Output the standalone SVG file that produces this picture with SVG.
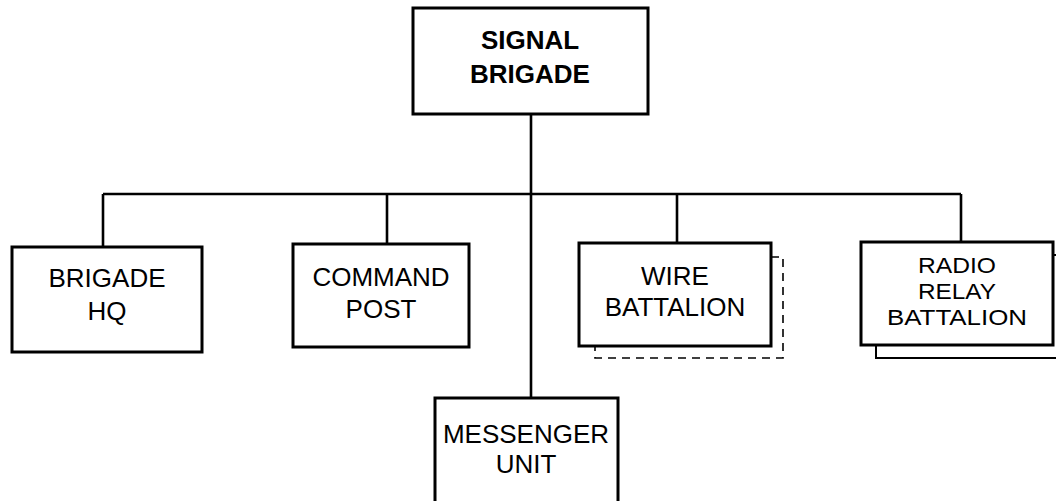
<svg xmlns="http://www.w3.org/2000/svg" width="1056" height="501" viewBox="0 0 1056 501">
<style>
.box{fill:#fff;stroke:#000;stroke-width:3}
.ln{fill:none;stroke:#000;stroke-width:2.6}
.sh{fill:none;stroke:#000;stroke-width:2}
.dash{fill:none;stroke:#000;stroke-width:1.6;stroke-dasharray:8 6}
text{font-family:"Liberation Sans",Arial,sans-serif;font-size:26px;text-anchor:middle;fill:#000}
.b{font-weight:bold}
.s{font-size:22px}
</style>
<rect width="1056" height="501" fill="#fff"/>
<g id="connectors">
<path class="ln" d="M531,114 V398"/>
<path class="ln" d="M103,194 H961"/>
<path class="ln" d="M103,194 V247"/>
<path class="ln" d="M387,194 V244"/>
<path class="ln" d="M677,194 V243"/>
<path class="ln" d="M961,194 V242"/>
</g>
<g id="signal-brigade">
<rect class="box" x="413" y="8" width="235" height="106"/>
<text class="b" x="530" y="49">SIGNAL</text>
<text class="b" x="530" y="83">BRIGADE</text>
</g>
<g id="brigade-hq">
<rect class="box" x="12" y="247" width="190" height="105"/>
<text x="107" y="287">BRIGADE</text>
<text x="107" y="320">HQ</text>
</g>
<g id="command-post">
<rect class="box" x="293" y="244" width="176" height="103"/>
<text x="381" y="286">COMMAND</text>
<text x="381" y="318">POST</text>
</g>
<g id="wire-battalion">
<path class="dash" d="M771,257 H783 V358 H595 V346"/>
<rect class="box" x="579" y="243" width="192" height="103"/>
<text x="675" y="285">WIRE</text>
<text x="675" y="316">BATTALION</text>
</g>
<g id="radio-relay-battalion">
<path class="sh" d="M1053,255 H1060 M876,345 V358 H1060"/>
<rect class="box" x="861" y="242" width="192" height="103"/>
<text class="s" x="957" y="273" textLength="78" lengthAdjust="spacingAndGlyphs">RADIO</text>
<text class="s" x="957" y="299" textLength="78" lengthAdjust="spacingAndGlyphs">RELAY</text>
<text class="s" x="957" y="325" textLength="140" lengthAdjust="spacingAndGlyphs">BATTALION</text>
</g>
<g id="messenger-unit">
<rect class="box" x="435" y="398" width="183" height="120"/>
<text x="526" y="443">MESSENGER</text>
<text x="526" y="473">UNIT</text>
</g>
</svg>
